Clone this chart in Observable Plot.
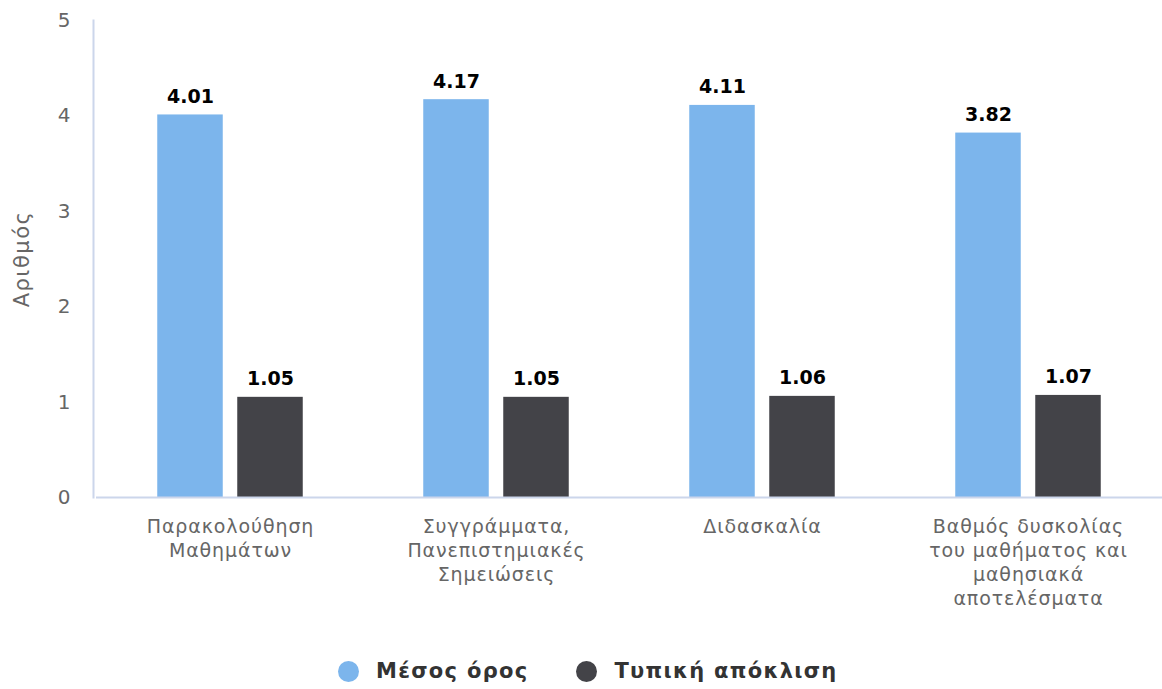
<!DOCTYPE html>
<html>
<head>
<meta charset="utf-8">
<script src="https://cdn.jsdelivr.net/npm/d3@7"></script>
<script src="https://cdn.jsdelivr.net/npm/@observablehq/plot@0.6"></script>
<style>
  body { margin: 0; background: #fff; font-family: "DejaVu Sans", sans-serif; }
  #legend { display: flex; gap: 48px; margin-left: 338px; margin-top: 34px; font-weight: bold; font-size: 21px; letter-spacing: 1.3px; color: #333; }
  .item { display: flex; align-items: center; gap: 17px; }
  .dot { width: 21px; height: 21px; border-radius: 50%; display: inline-block; }
</style>
</head>
<body>
<div id="chart"></div>
<div id="legend"></div>
<script>
const categories = ["Παρακολούθηση Μαθημάτων", "Συγγράμματα, Πανεπιστημιακές Σημειώσεις", "Διδασκαλία", "Βαθμός δυσκολίας του μαθήματος και μαθησιακά αποτελέσματα"];
const tickLabels = ["Παρακολούθηση\nΜαθημάτων", "Συγγράμματα,\nΠανεπιστημιακές\nΣημειώσεις", "Διδασκαλία", "Βαθμός δυσκολίας\nτου μαθήματος και\nμαθησιακά\nαποτελέσματα"];
const seriesNames = ["Μέσος όρος", "Τυπική απόκλιση"];
const meanValues = [4.01, 4.17, 4.11, 3.82];
const sdValues = [1.05, 1.05, 1.06, 1.07];
const colors = ["#7cb5ec", "#434348"];

const meanData = categories.map((c, i) => ({category: c, value: meanValues[i]}));
const sdData = categories.map((c, i) => ({category: c, value: sdValues[i]}));
const labelMap = new Map(categories.map((c, i) => [c, tickLabels[i]]));

const inset = 100.25;
const chart = Plot.plot({
  width: 1162,
  height: 625,
  marginLeft: 96,
  marginRight: 0,
  marginTop: 20,
  marginBottom: 128,
  style: {fontFamily: "DejaVu Sans, sans-serif", background: "#fff"},
  x: {domain: categories, padding: 0, label: null},
  y: {domain: [0, 5], label: null},
  marks: [
    Plot.barY(meanData, {x: "category", y: "value", fill: colors[0], insetLeft: inset, insetRight: inset, dx: -40}),
    Plot.barY(sdData, {x: "category", y: "value", fill: colors[1], insetLeft: inset, insetRight: inset, dx: 40}),
    Plot.text(meanData, {x: "category", y: "value", text: d => d.value.toFixed(2), dx: -40, dy: -12, lineAnchor: "bottom", fontWeight: "bold", fontSize: 19, fill: "#000"}),
    Plot.text(sdData, {x: "category", y: "value", text: d => d.value.toFixed(2), dx: 40, dy: -12, lineAnchor: "bottom", fontWeight: "bold", fontSize: 19, fill: "#000"}),
    Plot.ruleY([0], {stroke: "#ccd6eb", strokeWidth: 2}),
    Plot.frame({anchor: "left", stroke: "#ccd6eb", strokeWidth: 2, dx: -3}),
    Plot.axisY({ticks: [0,1,2,3,4,5], tickSize: 0, tickPadding: 26, fontSize: 19, fill: "#666", color: "#666", label: "Αριθμός", labelArrow: "none", labelAnchor: "center", labelOffset: 82, tickFormat: d3.format("d")}),
    Plot.axisX({tickSize: 0, tickPadding: 18, fontSize: 19, fill: "#666", color: "#666", lineHeight: 1.27, tickFormat: d => labelMap.get(d), label: null})
  ]
});
document.getElementById("chart").appendChild(chart);
const svg = d3.select(chart);
svg.selectAll("[aria-label='x-axis tick label']").style("font-size", "19px").style("letter-spacing", "0.9px");
svg.selectAll("[aria-label='y-axis tick label']").style("font-size", "20px");
svg.selectAll("[aria-label='y-axis label']").style("font-size", "21px").style("letter-spacing", "1.5px").style("fill", "#666");

const legend = d3.select("#legend");
seriesNames.forEach((s, i) => {
  const item = legend.append("div").attr("class", "item");
  item.append("span").attr("class", "dot").style("background", colors[i]);
  item.append("span").text(s);
});
</script>
</body>
</html>
